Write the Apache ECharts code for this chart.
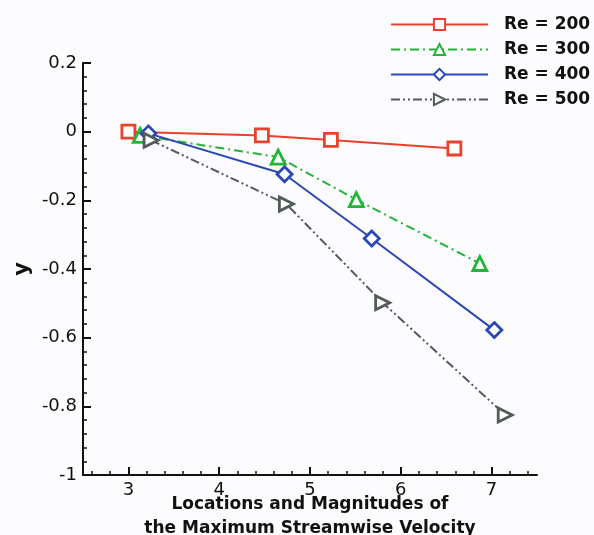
<!DOCTYPE html>
<html>
<head>
<meta charset="utf-8">
<script src="https://cdn.jsdelivr.net/npm/echarts@6/dist/echarts.min.js"></script>
<style>
html,body{margin:0;padding:0;background:#fcfcfe;}
#chart{width:594px;height:535px;}
</style>
</head>
<body>
<div id="chart"></div>
<script>
// values
var re200X = [3.0, 4.47, 5.23, 6.59];
var re200Y = [0, -0.011, -0.024, -0.049];
var re300X = [3.13, 4.65, 5.51, 6.87];
var re300Y = [-0.011, -0.074, -0.198, -0.384];
var re400X = [3.22, 4.72, 5.68, 7.03];
var re400Y = [-0.005, -0.124, -0.311, -0.578];
var re500X = [3.25, 4.74, 5.80, 7.15];
var re500Y = [-0.025, -0.211, -0.498, -0.825];

var seriesNames = ['Re = 200', 'Re = 300', 'Re = 400', 'Re = 500'];
var xMajor = [3, 4, 5, 6, 7];
var xMinor = [2.6, 2.8, 3.2, 3.4, 3.6, 3.8, 4.2, 4.4, 4.6, 4.8, 5.2, 5.4, 5.6, 5.8,
              6.2, 6.4, 6.6, 6.8, 7.2, 7.4];

var font = 'DejaVu Sans';

function pairs(xs, ys){
    var out = [];
    for(var i = 0; i < xs.length; i++) out.push([xs[i], ys[i]]);
    return out;
}

function mkSeries(name, data, color, symbol, size, dash, rotate){
    return {
        name: name,
        type: 'line',
        data: data,
        symbol: symbol,
        symbolSize: size,
        symbolRotate: rotate || 0,
        lineStyle: {color: color, width: 2, type: dash},
        itemStyle: {color: '#fff', borderColor: color, borderWidth: 2.8},
        emphasis: {disabled: true},
        z: 3
    };
}

var chart = echarts.init(document.getElementById('chart'));
chart.setOption({
    backgroundColor: '#fcfcfe',
    animation: false,
    grid: {left: 83, right: 57, top: 63, bottom: 60, containLabel: false, outerBoundsMode: 'none'},
    legend: {
        orient: 'vertical',
        left: 390,
        top: 16,
        padding: 0,
        itemWidth: 97,
        itemHeight: 14,
        itemGap: 8,
        data: seriesNames,
        textStyle: {fontFamily: font, fontWeight: 'bold', fontSize: 17, color: '#111', padding: [0, 0, 0, 11]}
    },
    xAxis: [{
        type: 'value',
        min: 2.5,
        max: 7.5,
        name: 'Locations and Magnitudes of\nthe Maximum Streamwise Velocity',
        nameLocation: 'middle',
        nameGap: 18,
        nameMoveOverlap: false,
        nameTextStyle: {fontFamily: font, fontWeight: 'bold', fontSize: 17, color: '#111', lineHeight: 24},
        axisLine: {onZero: false, lineStyle: {color: '#111', width: 2}},
        axisTick: {show: true, inside: true, length: 8, lineStyle: {width: 2, color: '#111'}, customValues: xMajor},
        axisLabel: {fontFamily: font, fontSize: 18, color: '#111', margin: 6, customValues: xMajor},
        splitLine: {show: false}
    }, {
        type: 'value',
        min: 2.5,
        max: 7.5,
        position: 'bottom',
        axisLine: {show: false, onZero: false},
        axisTick: {show: true, inside: true, length: 4, lineStyle: {width: 1.5, color: '#111'}, customValues: xMinor},
        axisLabel: {show: false},
        splitLine: {show: false}
    }],
    yAxis: {
        type: 'value',
        min: -1,
        max: 0.2,
        interval: 0.2,
        name: 'y',
        nameLocation: 'middle',
        nameGap: 50,
        nameMoveOverlap: false,
        nameTextStyle: {fontFamily: font, fontWeight: 'bold', fontSize: 21, color: '#111'},
        axisLine: {show: true, onZero: false, lineStyle: {color: '#111', width: 2}},
        axisTick: {show: true, inside: true, length: 8, lineStyle: {width: 2, color: '#111'}},
        minorTick: {show: true, splitNumber: 5, length: 4, lineStyle: {width: 1.5, color: '#111'}},
        axisLabel: {fontFamily: font, fontSize: 18, color: '#111', margin: 6},
        splitLine: {show: false},
        minorSplitLine: {show: false}
    },
    series: [
        mkSeries(seriesNames[0], pairs(re200X, re200Y), '#e8412c', 'rect', 13, 'solid'),
        mkSeries(seriesNames[1], pairs(re300X, re300Y), '#23b43a', 'triangle', 14, [9, 4, 2, 4]),
        mkSeries(seriesNames[2], pairs(re400X, re400Y), '#2a48b4', 'diamond', 15, 'solid'),
        mkSeries(seriesNames[3], pairs(re500X, re500Y), '#525a5a', 'triangle', 14, [9, 3, 2, 3, 2, 3], -90)
    ]
});
</script>
</body>
</html>
